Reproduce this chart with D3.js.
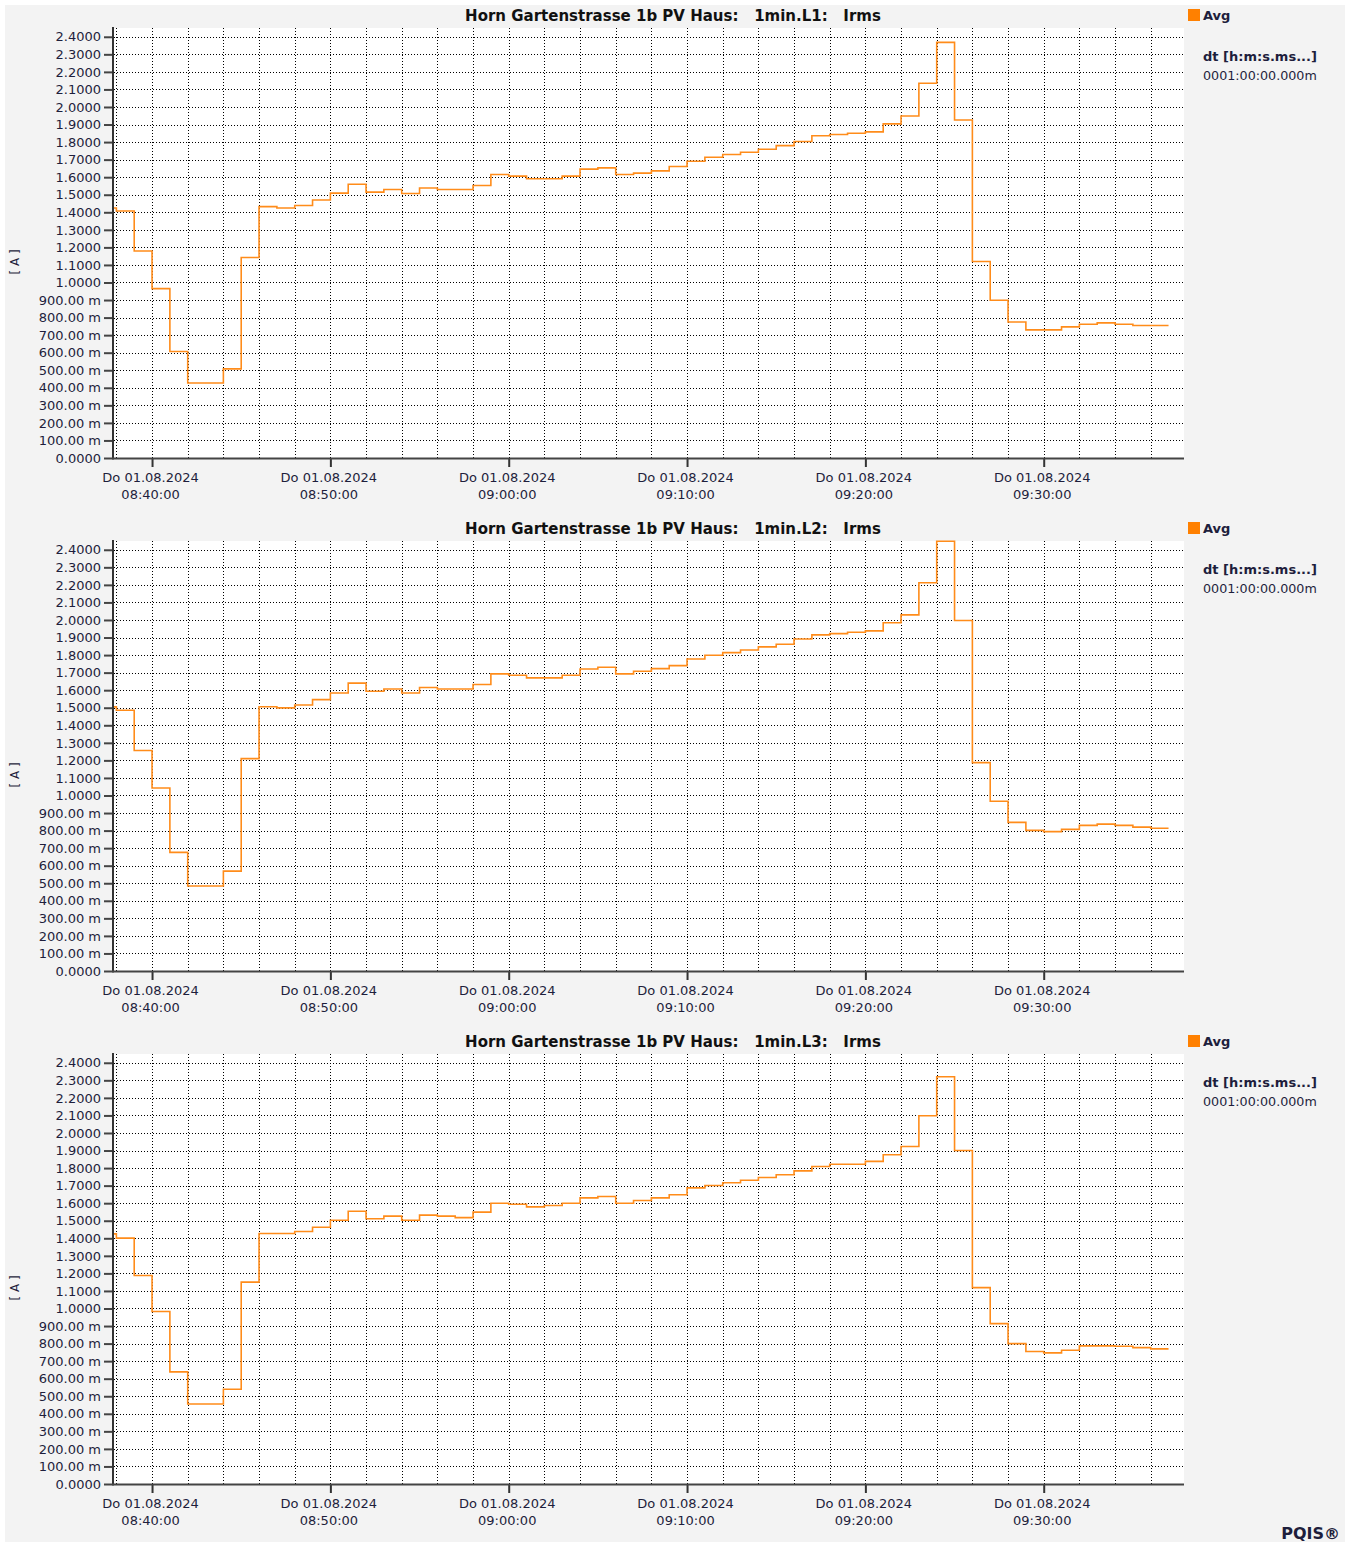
<!DOCTYPE html>
<html>
<head>
<meta charset="utf-8">
<script src="https://cdn.jsdelivr.net/npm/d3@7"></script>
<style>
  body { margin: 0; background: #fff; }
  svg text { font-family: "DejaVu Sans", sans-serif; fill: #1e1e3c; }
  .title { font-weight: bold; font-size: 15px; white-space: pre; fill: #111; }
</style>
</head>
<body>
<div id="chart"></div>
<script>
// minute averages of Irms per phase, 08:37 .. 09:36 (each value holds for one minute)
const startMinute = "2024-08-01T08:37:00";

const phases = ["L1", "L2", "L3"];

const irmsL1 = [
  1.424, 1.407, 1.179, 0.965, 0.607, 0.427, 0.427, 0.508, 1.142, 1.432,
  1.424, 1.439, 1.470, 1.509, 1.560, 1.515, 1.530, 1.507, 1.538, 1.530,
  1.530, 1.553, 1.615, 1.606, 1.591, 1.591, 1.606, 1.646, 1.653, 1.615,
  1.623, 1.636, 1.661, 1.691, 1.714, 1.729, 1.742, 1.759, 1.780, 1.803,
  1.836, 1.843, 1.850, 1.858, 1.904, 1.949, 2.135, 2.368, 1.926, 1.120,
  0.899, 0.775, 0.730, 0.730, 0.747, 0.762, 0.770, 0.762, 0.755, 0.755
];
const irmsL2 = [
  1.505, 1.486, 1.256, 1.043, 0.676, 0.484, 0.484, 0.569, 1.210, 1.506,
  1.499, 1.516, 1.546, 1.584, 1.640, 1.594, 1.607, 1.584, 1.615, 1.607,
  1.607, 1.632, 1.693, 1.685, 1.670, 1.670, 1.685, 1.721, 1.731, 1.693,
  1.708, 1.723, 1.740, 1.778, 1.799, 1.814, 1.829, 1.847, 1.862, 1.892,
  1.915, 1.922, 1.930, 1.938, 1.984, 2.029, 2.212, 2.449, 1.997, 1.187,
  0.967, 0.847, 0.801, 0.794, 0.807, 0.830, 0.837, 0.830, 0.820, 0.813
];
const irmsL3 = [
  1.425, 1.401, 1.188, 0.983, 0.639, 0.456, 0.456, 0.540, 1.150, 1.427,
  1.427, 1.439, 1.463, 1.503, 1.554, 1.511, 1.526, 1.503, 1.532, 1.526,
  1.518, 1.549, 1.600, 1.594, 1.579, 1.587, 1.600, 1.630, 1.638, 1.600,
  1.615, 1.630, 1.648, 1.687, 1.701, 1.716, 1.731, 1.746, 1.762, 1.784,
  1.809, 1.822, 1.822, 1.838, 1.876, 1.923, 2.098, 2.320, 1.900, 1.119,
  0.914, 0.800, 0.755, 0.747, 0.762, 0.787, 0.787, 0.785, 0.777, 0.770
];
const series = [irmsL1, irmsL2, irmsL3];

const yTicks = d3.range(0, 25).map(i => i / 10);
const xStart = new Date("2024-08-01T08:37:52");
const xEnd = new Date("2024-08-01T09:37:52");

const W = 1345, H = 1542;
const plotLeft = 114, plotRight = 1184;
const plotHeight = 430;
const plotTops = [28, 541, 1054];
const lineColor = "#ff8c1a";

const svg = d3.select("#chart").append("svg")
  .attr("width", W).attr("height", H);

svg.append("rect")
  .attr("x", 5).attr("y", 5)
  .attr("width", W - 5).attr("height", H - 5)
  .attr("fill", "#f3f3f3");

const x = d3.scaleTime().domain([xStart, xEnd]).range([plotLeft, plotRight]);

function yLabel(v) {
  if (v === 0) return "0.0000";
  if (v < 0.999) return (v * 1000).toFixed(2) + " m";
  return v.toFixed(4);
}

const t0 = new Date(startMinute);

series.forEach((vals, k) => {
  const top = plotTops[k];
  const bottom = top + plotHeight;
  const y = d3.scaleLinear().domain([0, 2.45]).range([bottom, top]);
  const g = svg.append("g");

  g.append("rect")
    .attr("x", plotLeft).attr("y", top)
    .attr("width", plotRight - plotLeft).attr("height", plotHeight)
    .attr("fill", "#fff");

  // dotted grid
  const hGrid = g.append("g")
    .attr("transform", `translate(${plotLeft},0)`)
    .call(d3.axisLeft(y).tickValues(yTicks.slice(1)).tickSize(-(plotRight - plotLeft)).tickFormat(""));
  const vGrid = g.append("g")
    .attr("transform", `translate(0,${bottom})`)
    .call(d3.axisBottom(x).ticks(d3.timeMinute.every(2)).tickSize(-plotHeight).tickFormat(""));
  [hGrid, vGrid].forEach(gr => {
    gr.select(".domain").remove();
    gr.selectAll("line")
      .attr("stroke", "#000")
      .attr("stroke-dasharray", "1,2")
      .attr("shape-rendering", "crispEdges");
  });

  // step line
  const clipId = "clip" + k;
  g.append("clipPath").attr("id", clipId)
    .append("rect")
    .attr("x", plotLeft).attr("y", top - 2)
    .attr("width", plotRight - plotLeft).attr("height", plotHeight + 2);

  const pts = vals.map((v, i) => ({ t: d3.timeMinute.offset(t0, i), v: v }));
  pts.push({ t: d3.timeMinute.offset(t0, vals.length), v: vals[vals.length - 1] });

  g.append("path")
    .datum(pts)
    .attr("clip-path", `url(#${clipId})`)
    .attr("fill", "none")
    .attr("stroke", lineColor)
    .attr("stroke-width", 1.6)
    .attr("d", d3.line().x(d => x(d.t)).y(d => y(d.v)).curve(d3.curveStepAfter));

  // y axis
  const yAxis = g.append("g")
    .attr("transform", `translate(${plotLeft},0)`)
    .call(d3.axisLeft(y).tickValues(yTicks).tickSize(10).tickPadding(3).tickFormat(yLabel));
  yAxis.select(".domain").remove();
  yAxis.selectAll(".tick line").attr("stroke", "#444").attr("stroke-width", 2);
  yAxis.selectAll(".tick text")
    .attr("font-size", 13)
    .attr("font-family", "DejaVu Sans")
    .attr("fill", "#1e1e3c");
  g.append("line")
    .attr("x1", plotLeft - 1).attr("x2", plotLeft - 1)
    .attr("y1", top - 1).attr("y2", bottom + 1)
    .attr("stroke", "#333").attr("stroke-width", 2);

  // x axis
  const xAxis = g.append("g")
    .attr("transform", `translate(0,${bottom})`)
    .call(d3.axisBottom(x).ticks(d3.timeMinute.every(10)).tickSize(9).tickFormat(""));
  xAxis.select(".domain").remove();
  xAxis.selectAll(".tick line").attr("stroke", "#333").attr("stroke-width", 2);
  const fmtDate = d3.timeFormat("Do %d.%m.%Y");
  const fmtTime = d3.timeFormat("%H:%M:%S");
  xAxis.selectAll(".tick").append("text")
    .attr("text-anchor", "middle")
    .attr("font-size", 13)
    .attr("fill", "#1e1e3c")
    .each(function (d) {
      const t = d3.select(this);
      t.append("tspan").attr("x", -2).attr("y", 24).text(fmtDate(d));
      t.append("tspan").attr("x", -2).attr("y", 41).text(fmtTime(d));
    });
  g.append("line")
    .attr("x1", plotLeft - 2).attr("x2", plotRight)
    .attr("y1", bottom + 0.5).attr("y2", bottom + 0.5)
    .attr("stroke", "#444").attr("stroke-width", 2);

  // unit label
  g.append("text")
    .attr("transform", `translate(19,${top + 234}) rotate(-90)`)
    .attr("text-anchor", "middle")
    .attr("font-size", 12)
    .attr("fill", "#222")
    .text("[ A ]");

  // title
  g.append("text")
    .attr("class", "title")
    .attr("x", 673).attr("y", top - 7)
    .attr("text-anchor", "middle")
    .text(`Horn Gartenstrasse 1b PV Haus:   1min.${phases[k]}:   Irms`);

  // legend
  g.append("rect")
    .attr("x", 1188).attr("y", top - 19)
    .attr("width", 12).attr("height", 12)
    .attr("fill", "#ff8000");
  g.append("text")
    .attr("x", 1203).attr("y", top - 8)
    .attr("font-size", 13).attr("font-weight", "bold").attr("fill", "#111")
    .text("Avg");
  g.append("text")
    .attr("x", 1203).attr("y", top + 33)
    .attr("font-size", 13).attr("font-weight", "bold").attr("fill", "#111")
    .text("dt [h:m:s.ms...]");
  g.append("text")
    .attr("x", 1203).attr("y", top + 52)
    .attr("font-size", 12.7).attr("fill", "#2a1f55")
    .text("0001:00:00.000m");
});

svg.append("text")
  .attr("x", 1340).attr("y", 1539)
  .attr("text-anchor", "end")
  .attr("font-family", "Liberation Sans")
  .attr("font-size", 16).attr("font-weight", "bold").attr("fill", "#222")
  .text("PQIS®");
</script>
</body>
</html>
